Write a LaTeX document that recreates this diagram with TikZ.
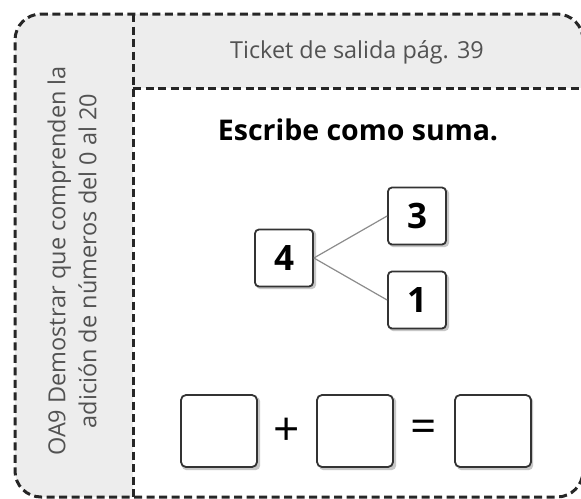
\documentclass[tikz,border=0pt]{standalone}
\usepackage{fontspec}
\setmainfont{Open Sans}
\begin{document}
\begin{tikzpicture}[x=1pt,y=-1pt,
  frameline/.style={line width=3pt,dash pattern=on 8pt off 4.5pt,color=black!85},
  numbox/.style={draw=black!80,line width=1.8pt,rounded corners=4pt,fill=white,minimum width=58pt,minimum height=57pt,inner sep=0pt,font=\fontsize{35}{35}\selectfont\bfseries},
  ansbox/.style={draw=black!80,line width=1.8pt,rounded corners=5pt,fill=white,minimum width=76pt,minimum height=72pt,inner sep=0pt},
  shadowbox/.style={fill=black!22,rounded corners=4pt,draw=none},
  link/.style={draw=black!45,line width=1.2pt},
  opsign/.style={font=\fontsize{46}{46}\selectfont,inner sep=0pt}
]
\useasboundingbox (0,0) rectangle (581,498);
\begin{scope}
\clip (0,0) rectangle (581,498);
\begin{scope}
\clip[rounded corners=26pt] (15,14) rectangle (583,497);
\fill[black!7] (0,0) rectangle (700,500);
\fill[white] (133,88) rectangle (700,500);
\end{scope}
\draw[frameline,rounded corners=26pt] (583,40) -- (583,14) -- (15,14) -- (15,497) -- (583,497) -- (583,471);
\draw[frameline] (133,14) -- (133,497);
\draw[frameline] (133,88) -- (700,88);
\end{scope}
% header
\node[text=black!68,font=\fontsize{23.4}{23.4}\selectfont] (hdr) at (357,52) {Ticket de salida pág. 39};
% side text
\node[rotate=90,text=black!68,align=center,font=\fontsize{23.5}{31}\selectfont] (side) at (72,261) {OA9 Demostrar que comprenden la\\adición de números del 0 al 20};
% title
\node[font=\fontsize{28.5}{28.5}\selectfont\bfseries] (title) at (358,130) {Escribe como suma.};
% number bond
\fill[shadowbox] (256,230) rectangle (316,289);
\fill[shadowbox] (389,189) rectangle (449,247);
\fill[shadowbox] (389,274) rectangle (449,331);
\node[numbox] (four) at (284,258) {4};
\node[numbox] (three) at (417,216) {3};
\node[numbox] (one) at (417,300) {1};
\draw[link] (four.east) -- (three.west);
\draw[link] (four.east) -- (one.west);
% equation
\fill[shadowbox] (182,397) rectangle (260,470);
\fill[shadowbox] (319,397) rectangle (396,470);
\fill[shadowbox] (457,397) rectangle (533,470);
\node[ansbox] (a) at (219,431) {};
\node[ansbox] (b) at (355,431) {};
\node[ansbox] (c) at (493,431) {};
\node[opsign] (plus) at (287,432) {+};
\node[opsign] (eq) at (424,431) {=};
\end{tikzpicture}
\end{document}
